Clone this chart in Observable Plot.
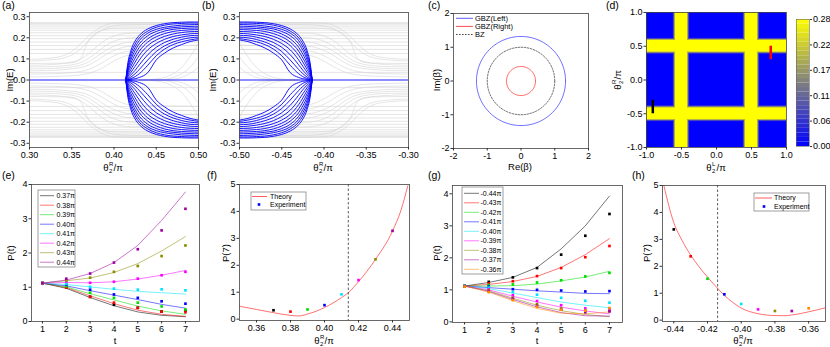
<!DOCTYPE html>
<html><head><meta charset="utf-8">
<script src="https://cdn.jsdelivr.net/npm/d3@7"></script>
<script src="https://cdn.jsdelivr.net/npm/@observablehq/plot@0.6"></script>
<style>
body{margin:0;background:#fff;}
#fig{position:relative;width:830px;height:347px;overflow:hidden;background:#fff;font-family:"Liberation Sans",Arial,sans-serif;color:#000;}
.lab{position:absolute;font-size:9.5px;white-space:nowrap;transform:translate(-50%,-50%);line-height:10px;}
.rot{transform:translate(-50%,-50%) rotate(-90deg);}
.let{position:absolute;font-size:10.5px;line-height:11px;}
.th{position:relative;display:inline-block;width:5px;height:8px;}
.th .sp{position:absolute;left:0.5px;top:-2.5px;font-size:6px;line-height:6px;}
.th .sb{position:absolute;left:0.5px;top:4.5px;font-size:6px;line-height:6px;}
</style>
</head><body>
<div id="fig"></div>
<script>
// ---------------- DATA ----------------
// (a)/(b) spectra Im(E) vs theta (panel b is the mirror theta -> -theta)
const thetaDomainA = [0.3, 0.5];
const greyFlat = [0.272, 0.268, 0.262, 0.255, 0.246, 0.236, 0.224, 0.21, 0.196, 0.18, 0.163, 0.145, 0.125, 0.036];
const riseKnots = [0.30, 0.32, 0.34, 0.35, 0.36, 0.37, 0.38, 0.39, 0.40, 0.42, 0.50];
const riseGrey = [
  [0.098, 0.102, 0.115, 0.135, 0.170, 0.210, 0.240, 0.260, 0.270, 0.272, 0.272],
  [0.090, 0.094, 0.104, 0.118, 0.145, 0.185, 0.222, 0.245, 0.257, 0.262, 0.264],
  [0.078, 0.079, 0.080, 0.082, 0.100, 0.190, 0.225, 0.240, 0.245, 0.246, 0.246],
  [0.070, 0.072, 0.078, 0.085, 0.098, 0.125, 0.160, 0.190, 0.208, 0.222, 0.226],
  [0.062, 0.063, 0.067, 0.072, 0.082, 0.102, 0.132, 0.162, 0.184, 0.200, 0.205],
  [0.053, 0.054, 0.058, 0.062, 0.070, 0.086, 0.112, 0.140, 0.160, 0.180, 0.185],
  [0.044, 0.045, 0.049, 0.053, 0.059, 0.071, 0.093, 0.120, 0.140, 0.160, 0.165],
  [0.028, 0.029, 0.032, 0.035, 0.040, 0.050, 0.068, 0.092, 0.115, 0.138, 0.145],
  [0.015, 0.016, 0.018, 0.020, 0.024, 0.031, 0.045, 0.066, 0.090, 0.118, 0.125]
];
const innerGreyKnots = [0.43, 0.45, 0.47, 0.48, 0.49, 0.50];
const innerGrey = [
  [0.000, 0.005, 0.030, 0.060, 0.110, 0.175],
  [0.000, 0.000, 0.012, 0.030, 0.060, 0.110],
  [0.000, 0.000, 0.004, 0.012, 0.030, 0.060]
];
const blueKnots = [0.414, 0.416, 0.42, 0.425, 0.43, 0.44, 0.45, 0.46, 0.47, 0.48, 0.49, 0.50];
const blueArcs = [
  [0, 0.070, 0.140, 0.185, 0.212, 0.242, 0.258, 0.267, 0.272, 0.274, 0.275, 0.275],
  [0, 0.060, 0.125, 0.170, 0.200, 0.232, 0.250, 0.260, 0.266, 0.268, 0.270, 0.270],
  [0, 0.050, 0.110, 0.155, 0.187, 0.222, 0.240, 0.250, 0.256, 0.260, 0.262, 0.263],
  [0, 0.042, 0.095, 0.140, 0.172, 0.210, 0.230, 0.242, 0.248, 0.252, 0.254, 0.255],
  [0, 0.035, 0.080, 0.122, 0.155, 0.195, 0.218, 0.232, 0.240, 0.244, 0.246, 0.247],
  [0, 0.028, 0.065, 0.104, 0.137, 0.180, 0.205, 0.220, 0.230, 0.235, 0.238, 0.239],
  [0, 0.020, 0.050, 0.085, 0.117, 0.163, 0.190, 0.207, 0.218, 0.225, 0.229, 0.230],
  [0, 0.014, 0.036, 0.065, 0.095, 0.143, 0.173, 0.193, 0.206, 0.214, 0.219, 0.221],
  [0, 0.009, 0.024, 0.046, 0.072, 0.120, 0.155, 0.178, 0.193, 0.203, 0.210, 0.212],
  [0, 0.005, 0.014, 0.030, 0.050, 0.095, 0.135, 0.162, 0.180, 0.192, 0.200, 0.203],
  [0, 0.002, 0.007, 0.016, 0.030, 0.070, 0.115, 0.147, 0.168, 0.181, 0.190, 0.196],
  [0, 0.001, 0.003, 0.006, 0.012, 0.035, 0.095, 0.128, 0.152, 0.168, 0.182, 0.190]
];
const ticksA = [0.30, 0.35, 0.40, 0.45, 0.50];
const ticksImE = [-0.3, -0.2, -0.1, 0, 0.1, 0.2, 0.3];

// (c) GBZ / BZ radii
const radiusGBZLeft = 1.32, radiusGBZRight = 0.43, radiusBZ = 1.0;
const ticksC = [-2, -1, 0, 1, 2];

// (d) phase map
const thetaRangeD = [-1, 1];
const bandEdges = [[-0.586, -0.414], [0.414, 0.586]];
const bandLevels = [{pad: 0.03, v: 0.07}, {pad: 0.015, v: 0.19}, {pad: 0, v: 0.28}];
const markerBlack = {l: -0.91, r: [-0.5, -0.3]};
const markerRed = {l: 0.775, r: [0.3, 0.5]};
const ticksD = [-1, -0.5, 0, 0.5, 1];
const cbTicks = [0, 0.056, 0.112, 0.168, 0.224, 0.28];
const cbLabels = ["0.00", "0.06", "0.11", "0.17", "0.22", "0.28"];

// (e) P(t), theta_R > 0
const tSteps = [1, 2, 3, 4, 5, 6, 7];
const eLabels = ["0.37π", "0.38π", "0.39π", "0.40π", "0.41π", "0.42π", "0.43π", "0.44π"];
const eColors = ["#000000", "#ff0000", "#00dd00", "#0000ff", "#00e5ff", "#ff00ff", "#8c8c00", "#a000a0"];
const eTheory = [
  [1.12, 0.97, 0.70, 0.46, 0.28, 0.18, 0.14],
  [1.12, 0.99, 0.75, 0.52, 0.33, 0.21, 0.15],
  [1.12, 1.01, 0.81, 0.63, 0.45, 0.31, 0.21],
  [1.12, 1.04, 0.90, 0.77, 0.64, 0.50, 0.39],
  [1.12, 1.08, 1.01, 0.94, 0.88, 0.84, 0.80],
  [1.12, 1.14, 1.13, 1.16, 1.24, 1.35, 1.49],
  [1.12, 1.19, 1.27, 1.43, 1.69, 2.06, 2.48],
  [1.12, 1.21, 1.40, 1.72, 2.22, 2.95, 3.78]
];
const eExp = [
  [1.12, 1.00, 0.72, 0.49, 0.40, 0.29, 0.32],
  [1.12, 0.99, 0.72, 0.55, 0.40, 0.29, 0.27],
  [1.12, 1.03, 0.84, 0.69, 0.55, 0.44, 0.35],
  [1.12, 1.08, 0.93, 0.79, 0.69, 0.59, 0.52],
  [1.12, 1.10, 1.01, 0.96, 0.93, 0.94, 0.91],
  [1.12, 1.17, 1.13, 1.16, 1.25, 1.35, 1.45],
  [1.12, 1.20, 1.28, 1.45, 1.62, 1.91, 2.22],
  [1.12, 1.25, 1.40, 1.72, 2.11, 2.66, 3.29]
];

// (f) P(7) vs theta_R > 0
const fTheoryTheta = [0.35, 0.36, 0.37, 0.38, 0.385, 0.39, 0.40, 0.41, 0.414, 0.42, 0.43, 0.44, 0.445, 0.449];
const fTheoryP = [0.48, 0.36, 0.24, 0.14, 0.12, 0.19, 0.43, 0.80, 0.98, 1.39, 2.22, 3.27, 4.05, 4.95];
const fExpTheta = [0.37, 0.38, 0.39, 0.40, 0.41, 0.42, 0.43, 0.44];
const fExpP = [0.33, 0.28, 0.36, 0.52, 0.92, 1.45, 2.22, 3.28];
const criticalTheta = 0.414;
const ticksF = [0.36, 0.38, 0.40, 0.42, 0.44];

// (g) P(t), theta_R < 0
const gLabels = ["-0.44π", "-0.43π", "-0.42π", "-0.41π", "-0.40π", "-0.39π", "-0.38π", "-0.37π", "-0.36π"];
const gColors = ["#000000", "#ff0000", "#00dd00", "#0000ff", "#00e5ff", "#ff00ff", "#8c8c00", "#a000a0", "#ff8c00"];
const gTheory = [
  [1.12, 1.23, 1.39, 1.70, 2.28, 3.00, 3.93],
  [1.12, 1.17, 1.26, 1.42, 1.70, 2.10, 2.60],
  [1.12, 1.12, 1.13, 1.18, 1.28, 1.40, 1.58],
  [1.12, 1.07, 1.02, 0.97, 0.93, 0.89, 0.88],
  [1.12, 1.04, 0.90, 0.76, 0.62, 0.52, 0.44],
  [1.12, 1.00, 0.80, 0.62, 0.46, 0.34, 0.25],
  [1.12, 0.97, 0.74, 0.52, 0.35, 0.23, 0.16],
  [1.12, 0.95, 0.70, 0.47, 0.29, 0.19, 0.18],
  [1.12, 0.93, 0.66, 0.42, 0.27, 0.25, 0.31]
];
const gExp = [
  [1.12, 1.25, 1.39, 1.68, 2.10, 2.69, 3.37],
  [1.12, 1.20, 1.27, 1.43, 1.68, 2.02, 2.37],
  [1.12, 1.15, 1.17, 1.23, 1.30, 1.42, 1.53],
  [1.12, 1.10, 1.02, 1.00, 0.98, 0.95, 0.96],
  [1.12, 1.07, 0.93, 0.85, 0.75, 0.66, 0.60],
  [1.10, 1.02, 0.83, 0.65, 0.52, 0.42, 0.40],
  [1.10, 0.98, 0.75, 0.55, 0.42, 0.35, 0.33],
  [1.10, 0.96, 0.72, 0.50, 0.38, 0.30, 0.33],
  [1.10, 0.93, 0.68, 0.47, 0.38, 0.35, 0.43]
];

// (h) P(7) vs theta_R < 0
const hTheoryTheta = [-0.4459, -0.44, -0.435, -0.43, -0.425, -0.42, -0.415, -0.41, -0.405, -0.40, -0.39, -0.38, -0.375, -0.37, -0.36, -0.35];
const hTheoryP = [5.0, 3.62, 2.95, 2.42, 1.98, 1.60, 1.25, 0.92, 0.66, 0.45, 0.24, 0.17, 0.165, 0.19, 0.31, 0.46];
const hExpTheta = [-0.44, -0.43, -0.42, -0.41, -0.40, -0.39, -0.38, -0.37, -0.36];
const hExpP = [3.37, 2.37, 1.54, 0.96, 0.60, 0.40, 0.34, 0.34, 0.44];
const ticksH = [-0.44, -0.42, -0.40, -0.38, -0.36];
const ticksPt = [0, 1, 2, 3, 4];
const ticksP7 = [0, 1, 2, 3, 4, 5];

// ---------------- HELPERS ----------------
const fig = document.getElementById("fig");
const FONT = "Liberation Sans, Arial, sans-serif";
const f0 = d => String(d), f1 = d => d.toFixed(1), f2 = d => d.toFixed(2);

function panel({box, x, y, color, marks, m = [4, 12, 16, 32]}) {
  const [l, t, r, b] = box;
  const [mt, mr, mb, ml] = m;
  const p = Plot.plot({
    width: r - l + ml + mr, height: b - t + mt + mb,
    marginLeft: ml, marginRight: mr, marginTop: mt, marginBottom: mb,
    x, y, color,
    style: {background: "transparent", fontFamily: FONT, fontSize: "9px", color: "#000", overflow: "visible"},
    marks
  });
  p.style.position = "absolute";
  p.style.left = (l - ml) + "px";
  p.style.top = (t - mt) + "px";
  p.style.maxWidth = "none";
  fig.appendChild(p);
}
const axX = (ticks, fmt) => Plot.axisX({ticks, tickFormat: fmt, tickSize: 2.5, tickPadding: 1.5, label: null, stroke: "#333"});
const axY = (ticks, fmt) => Plot.axisY({ticks, tickFormat: fmt, tickSize: 2.5, tickPadding: 1.5, label: null, stroke: "#333"});
const frame = () => Plot.frame({stroke: "#444", strokeWidth: 0.8});

function html(cls, x, y, content) {
  const d = document.createElement("div");
  d.className = cls;
  d.style.left = x + "px"; d.style.top = y + "px";
  d.innerHTML = content;
  fig.appendChild(d);
}
const theta = s => `θ<span class="th"><span class="sp">${s}</span><span class="sb">2</span></span>/π`;

// ---------------- (a) & (b) ----------------
function spectrumRows(sign) {
  const grey = [], blue = [];
  let id = 0;
  for (const v of greyFlat) for (const s of [1, -1]) {
    for (const xv of thetaDomainA) grey.push({x: sign * xv, y: s * v, id});
    id++;
  }
  for (const c of riseGrey) for (const s of [1, -1]) {
    riseKnots.forEach((k, i) => grey.push({x: sign * k, y: s * c[i], id}));
    id++;
  }
  for (const c of innerGrey) for (const s of [1, -1]) {
    innerGreyKnots.forEach((k, i) => grey.push({x: sign * k, y: s * c[i], id}));
    id++;
  }
  for (const c of blueArcs) for (const s of [1, -1]) {
    blueKnots.forEach((k, i) => blue.push({x: sign * k, y: s * c[i], id}));
    id++;
  }
  for (const xv of thetaDomainA) blue.push({x: sign * xv, y: 0, id: id});
  return {grey, blue};
}
function spectrumPanel(box, sign) {
  const {grey, blue} = spectrumRows(sign);
  const dom = sign > 0 ? thetaDomainA : thetaDomainA.map(v => -v).reverse();
  const ticks = ticksA.map(v => sign * v);
  panel({
    box,
    x: {domain: dom},
    y: {domain: [-0.32, 0.32]},
    marks: [
      Plot.line(grey, {x: "x", y: "y", z: "id", stroke: "#d4d4d4", strokeWidth: 0.6, curve: "monotone-x", clip: true}),
      Plot.line(blue, {x: "x", y: "y", z: "id", stroke: "#0000ff", strokeWidth: 0.9, curve: "monotone-x", clip: true}),
      frame(), axX(ticks, f2), axY(ticksImE, f1)
    ]
  });
}
spectrumPanel([29, 12, 198, 147], 1);
spectrumPanel([239, 12, 408, 147], -1);

// ---------------- (c) ----------------
function circleRows(r) { return d3.range(0, 361, 3).map(a => ({x: r * Math.cos(a * Math.PI / 180), y: r * Math.sin(a * Math.PI / 180)})); }
panel({
  box: [453, 13, 588, 148],
  x: {domain: [-2, 2]}, y: {domain: [-2, 2]},
  marks: [
    Plot.line(circleRows(radiusGBZLeft), {x: "x", y: "y", stroke: "#4a4aff", strokeWidth: 0.8}),
    Plot.line(circleRows(radiusGBZRight), {x: "x", y: "y", stroke: "#ff3a3a", strokeWidth: 0.8}),
    Plot.line(circleRows(radiusBZ), {x: "x", y: "y", stroke: "#333", strokeWidth: 0.7, strokeDasharray: "1.6,1.4"}),
    frame(), axX(ticksC, f0), axY(ticksC, f0)
  ]
});

// ---------------- (d) ----------------
const colorD = {type: "linear", domain: [0, 0.28], range: ["#0000ff", "#ffff00"], interpolate: "rgb"};
const rectsD = [{x1: thetaRangeD[0], x2: thetaRangeD[1], y1: thetaRangeD[0], y2: thetaRangeD[1], v: 0}];
for (const lev of bandLevels) for (const [lo, hi] of bandEdges) {
  rectsD.push({x1: lo - lev.pad, x2: hi + lev.pad, y1: thetaRangeD[0], y2: thetaRangeD[1], v: lev.v});
  rectsD.push({x1: thetaRangeD[0], x2: thetaRangeD[1], y1: lo - lev.pad, y2: hi + lev.pad, v: lev.v});
}
panel({
  box: [646, 12, 786, 147],
  x: {domain: thetaRangeD}, y: {domain: thetaRangeD}, color: colorD,
  marks: [
    Plot.rect(rectsD, {x1: "x1", x2: "x2", y1: "y1", y2: "y2", fill: "v"}),
    Plot.ruleX([markerBlack], {x: "l", y1: d => d.r[0], y2: d => d.r[1], stroke: "#000", strokeWidth: 2.5}),
    Plot.ruleX([markerRed], {x: "l", y1: d => d.r[0], y2: d => d.r[1], stroke: "#ff0000", strokeWidth: 2.5}),
    frame(), axX(ticksD, f1), axY(ticksD, f1)
  ]
});
// colorbar
const cbStep = 0.28 / 28;
const cbRows = d3.range(0, 28).map(i => ({y1: i * cbStep, y2: (i + 1) * cbStep, v: (i + 0.5) * cbStep}));
panel({
  box: [796, 19, 809, 146], m: [4, 24, 6, 2],
  x: {domain: [0, 1], axis: null}, y: {domain: [0, 0.28]}, color: colorD,
  marks: [
    Plot.rect(cbRows, {x1: 0, x2: 1, y1: "y1", y2: "y2", fill: "v"}),
    Plot.frame({stroke: "#666", strokeWidth: 0.6}),
    Plot.axisY({anchor: "right", ticks: cbTicks, tickFormat: d => cbLabels[cbTicks.indexOf(d)], tickSize: 2, tickPadding: 1.5, label: null, stroke: "#333"})
  ]
});

// ---------------- (e) & (g) ----------------
function ptRows(labels, arr) {
  const rows = [];
  arr.forEach((s, i) => s.forEach((p, j) => rows.push({t: tSteps[j], p, s: labels[i]})));
  return rows;
}
function ptPanel(box, labels, colors, theory, exp, xdom, ydom) {
  panel({
    box,
    x: {domain: xdom}, y: {domain: ydom}, color: {domain: labels, range: colors},
    marks: [
      Plot.line(ptRows(labels, theory), {x: "t", y: "p", z: "s", stroke: "s", strokeWidth: 0.9, strokeOpacity: 0.6, clip: true}),
      Plot.dot(ptRows(labels, exp), {x: "t", y: "p", fill: "s", symbol: "square", r: 1.5}),
      frame(), axX(tSteps, f0), axY(ticksPt, f0)
    ]
  });
}
ptPanel([31, 184, 199, 321], eLabels, eColors, eTheory, eExp, [0.54, 7.59], [0, 4]);
ptPanel([452, 185, 622, 322], gLabels, gColors, gTheory, gExp, [0.5, 7.54], [-0.02, 4.26]);

// ---------------- (f) & (h) ----------------
function p7Panel(box, xdom, thTheta, thP, exTheta, exP, labels, colors, ticks, crit) {
  panel({
    box,
    x: {domain: xdom}, y: {domain: [-0.05, 5]}, color: {domain: labels, range: colors},
    marks: [
      Plot.line(thTheta.map((v, i) => ({x: v, y: thP[i]})), {x: "x", y: "y", stroke: "#ff4d4d", strokeWidth: 0.8, curve: "monotone-x", clip: true}),
      Plot.ruleX([crit], {stroke: "#333", strokeWidth: 0.8, strokeDasharray: "2.5,2"}),
      Plot.dot(exTheta.map((v, i) => ({x: v, y: exP[i], s: labels[i]})), {x: "x", y: "y", fill: "s", symbol: "square", r: 1.5}),
      frame(), axX(ticks, f2), axY(ticksP7, f0)
    ]
  });
}
p7Panel([239, 184, 409, 320], [0.35, 0.45], fTheoryTheta, fTheoryP, fExpTheta, fExpP, eLabels, eColors, ticksF, criticalTheta);
p7Panel([662, 185, 825, 321], [-0.4467, -0.35], hTheoryTheta, hTheoryP, hExpTheta, hExpP, gLabels, gColors, ticksH, -criticalTheta);

// ---------------- overlay legends ----------------
const ov = d3.select(fig).append("svg").attr("width", 830).attr("height", 347)
  .style("position", "absolute").style("left", 0).style("top", 0).style("pointer-events", "none")
  .style("font-family", FONT);
function listLegend({box, rows, x0, x1, tx, y0, dy, fs, opacity = 1, dash = []}) {
  if (box) ov.append("rect").attr("x", box[0]).attr("y", box[1]).attr("width", box[2] - box[0]).attr("height", box[3] - box[1])
    .attr("fill", "#fff").attr("stroke", "#777").attr("stroke-width", 0.7);
  rows.forEach(([label, color], i) => {
    const y = y0 + i * dy;
    ov.append("line").attr("x1", x0).attr("x2", x1).attr("y1", y).attr("y2", y)
      .attr("stroke", color).attr("stroke-width", 0.9).attr("stroke-opacity", opacity)
      .attr("stroke-dasharray", dash[i] || null);
    ov.append("text").attr("x", tx).attr("y", y).attr("dy", "0.35em").attr("font-size", fs).text(label);
  });
}
listLegend({rows: [["GBZ(Left)", "#4a4aff"], ["GBZ(Right)", "#ff3a3a"], ["BZ", "#333"]],
  x0: 456, x1: 473, tx: 475, y0: 18.3, dy: 8.1, fs: 7.5, dash: [null, null, "1.6,1.4"]});
listLegend({box: [38, 190, 75, 267], rows: eLabels.map((l, i) => [l, eColors[i]]),
  x0: 40, x1: 54, tx: 56.5, y0: 195.7, dy: 9.5, fs: 7, opacity: 0.6});
listLegend({box: [462, 187, 503, 274], rows: gLabels.map((l, i) => [l, gColors[i]]),
  x0: 464, x1: 479, tx: 480.5, y0: 193.3, dy: 9.5, fs: 7, opacity: 0.6});
function theoryLegend(box, lx0, lx1, tx, y1, y2, dotx) {
  ov.append("rect").attr("x", box[0]).attr("y", box[1]).attr("width", box[2] - box[0]).attr("height", box[3] - box[1])
    .attr("fill", "#fff").attr("stroke", "#777").attr("stroke-width", 0.7);
  ov.append("line").attr("x1", lx0).attr("x2", lx1).attr("y1", y1).attr("y2", y1).attr("stroke", "#ff4d4d").attr("stroke-width", 0.9);
  ov.append("text").attr("x", tx).attr("y", y1).attr("dy", "0.35em").attr("font-size", 7).text("Theory");
  ov.append("rect").attr("x", dotx - 1.3).attr("y", y2 - 1.3).attr("width", 2.6).attr("height", 2.6).attr("fill", "#0000ff");
  ov.append("text").attr("x", tx).attr("y", y2).attr("dy", "0.35em").attr("font-size", 7).text("Experiment");
}
theoryLegend([251, 192, 306, 210], 252, 267, 270, 196.5, 204.5, 259);
theoryLegend([754, 193, 809, 211], 755, 772, 774, 198, 206.5, 764);

// ---------------- labels ----------------
[["(a)", 2], ["(b)", 202], ["(c)", 428], ["(d)", 606]].forEach(([t, x]) => html("let", x, 0, t));
[["(e)", 2], ["(f)", 207], ["(g)", 428], ["(h)", 632]].forEach(([t, x]) => html("let", x, 170, t));
html("lab rot", 10, 80, "Im(E)");
html("lab", 113, 168, theta("R"));
html("lab rot", 213, 80, "Im(E)");
html("lab", 323, 168, theta("R"));
html("lab rot", 437, 80, "Im(β)");
html("lab", 520, 166.5, "Re(β)");
html("lab rot", 618, 80, theta("R"));
html("lab", 716, 168, theta("L"));
html("lab rot", 11, 253, "P(t)");
html("lab", 115, 341, "t");
html("lab rot", 226, 253, "P(7)");
html("lab", 324, 341, theta("R"));
html("lab rot", 437, 253, "P(t)");
html("lab", 537, 341, "t");
html("lab rot", 647, 253, "P(7)");
html("lab", 743, 341, theta("R"));
</script>
</body></html>
